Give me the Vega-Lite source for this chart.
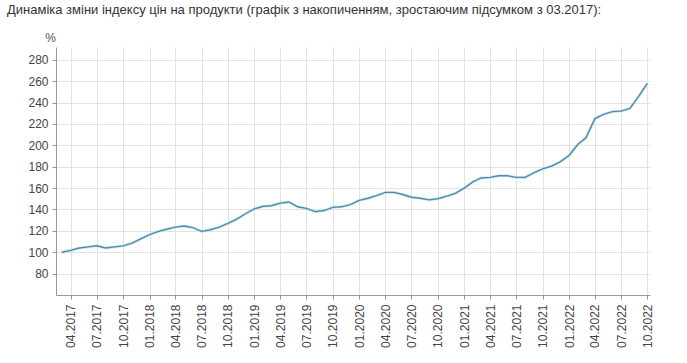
{
  "$schema": "https://vega.github.io/schema/vega-lite/v6.json",
  "width": 594,
  "height": 248,
  "autosize": "none",
  "padding": {"left": 56, "top": 47, "right": 37, "bottom": 68},
  "background": "white",
  "config": {"view": {"stroke": null}, "font": "Liberation Sans"},
  "title": {
    "text": "Динаміка зміни індексу цін на продукти (графік з накопиченням, зростаючим підсумком з 03.2017):",
    "anchor": "start",
    "frame": "group",
    "fontSize": 13,
    "fontWeight": "normal",
    "color": "#333333",
    "dx": -49,
    "offset": 14
  },
  "data": {
    "values": [
      {"d": "2017-03-01", "v": 100},
      {"d": "2017-04-01", "v": 101.8},
      {"d": "2017-05-01", "v": 104},
      {"d": "2017-06-01", "v": 105},
      {"d": "2017-07-01", "v": 106},
      {"d": "2017-08-01", "v": 104},
      {"d": "2017-09-01", "v": 105},
      {"d": "2017-10-01", "v": 106},
      {"d": "2017-11-01", "v": 108.5},
      {"d": "2017-12-01", "v": 112.5},
      {"d": "2018-01-01", "v": 116.5},
      {"d": "2018-02-01", "v": 119.5},
      {"d": "2018-03-01", "v": 121.5},
      {"d": "2018-04-01", "v": 123.5},
      {"d": "2018-05-01", "v": 124.5},
      {"d": "2018-06-01", "v": 123},
      {"d": "2018-07-01", "v": 119.5},
      {"d": "2018-08-01", "v": 121},
      {"d": "2018-09-01", "v": 123.5},
      {"d": "2018-10-01", "v": 127},
      {"d": "2018-11-01", "v": 131},
      {"d": "2018-12-01", "v": 136},
      {"d": "2019-01-01", "v": 140.5},
      {"d": "2019-02-01", "v": 143},
      {"d": "2019-03-01", "v": 143.5},
      {"d": "2019-04-01", "v": 146},
      {"d": "2019-05-01", "v": 147},
      {"d": "2019-06-01", "v": 142.5},
      {"d": "2019-07-01", "v": 141},
      {"d": "2019-08-01", "v": 138},
      {"d": "2019-09-01", "v": 139},
      {"d": "2019-10-01", "v": 142},
      {"d": "2019-11-01", "v": 142.5},
      {"d": "2019-12-01", "v": 144.5},
      {"d": "2020-01-01", "v": 148.5},
      {"d": "2020-02-01", "v": 150.5},
      {"d": "2020-03-01", "v": 153},
      {"d": "2020-04-01", "v": 156},
      {"d": "2020-05-01", "v": 156},
      {"d": "2020-06-01", "v": 154},
      {"d": "2020-07-01", "v": 151.5},
      {"d": "2020-08-01", "v": 150.5},
      {"d": "2020-09-01", "v": 149},
      {"d": "2020-10-01", "v": 150},
      {"d": "2020-11-01", "v": 152.5},
      {"d": "2020-12-01", "v": 155},
      {"d": "2021-01-01", "v": 160},
      {"d": "2021-02-01", "v": 166},
      {"d": "2021-03-01", "v": 169.5},
      {"d": "2021-04-01", "v": 170},
      {"d": "2021-05-01", "v": 171.5},
      {"d": "2021-06-01", "v": 171.5},
      {"d": "2021-07-01", "v": 170},
      {"d": "2021-08-01", "v": 170},
      {"d": "2021-09-01", "v": 174.5},
      {"d": "2021-10-01", "v": 178},
      {"d": "2021-11-01", "v": 180.5},
      {"d": "2021-12-01", "v": 184.5},
      {"d": "2022-01-01", "v": 190.5},
      {"d": "2022-02-01", "v": 201},
      {"d": "2022-03-01", "v": 207},
      {"d": "2022-04-01", "v": 225},
      {"d": "2022-05-01", "v": 229},
      {"d": "2022-06-01", "v": 231.5},
      {"d": "2022-07-01", "v": 232},
      {"d": "2022-08-01", "v": 234.5},
      {"d": "2022-09-01", "v": 246},
      {"d": "2022-10-01", "v": 258}
    ]
  },
  "encoding": {
    "x": {
      "field": "d",
      "type": "temporal",
      "scale": {
        "type": "utc",
        "domain": [
          {"year": 2017, "month": 2, "date": 9, "utc": true},
          {"year": 2022, "month": 10, "date": 10, "utc": true}
        ]
      },
      "axis": {
        "title": null,
        "grid": true,
        "gridColor": "#e3e3e3",
        "labelExpr": "utcFormat(datum.value, '%m.%Y')",
        "tickCount": {"interval": "month", "step": 3},
        "labelAngle": -90,
        "labelFontSize": 12,
        "labelColor": "#444444",
        "labelPadding": 5,
        "labelFlush": false,
        "labelOverlap": false,
        "domainColor": "#999999",
        "tickColor": "#999999",
        "tickSize": 4
      }
    },
    "y": {
      "field": "v",
      "type": "quantitative",
      "scale": {"domain": [60, 292], "nice": false, "zero": false},
      "axis": {
        "title": "%",
        "titleAngle": 0,
        "titleX": -6,
        "titleY": -6,
        "titleAlign": "center",
        "titleBaseline": "alphabetic",
        "titleFontSize": 12,
        "titleFontWeight": "normal",
        "titleColor": "#555555",
        "values": [80, 100, 120, 140, 160, 180, 200, 220, 240, 260, 280],
        "grid": true,
        "gridColor": "#e3e3e3",
        "labelFontSize": 12,
        "labelColor": "#444444",
        "labelPadding": 4,
        "domainColor": "#999999",
        "tickColor": "#999999",
        "tickSize": 4
      }
    }
  },
  "layer": [
    {
      "mark": {"type": "line", "color": "#bfe0ee", "strokeWidth": 3, "opacity": 0.7}
    },
    {
      "mark": {"type": "line", "color": "#4d8cab", "strokeWidth": 1.4}
    }
  ]
}
